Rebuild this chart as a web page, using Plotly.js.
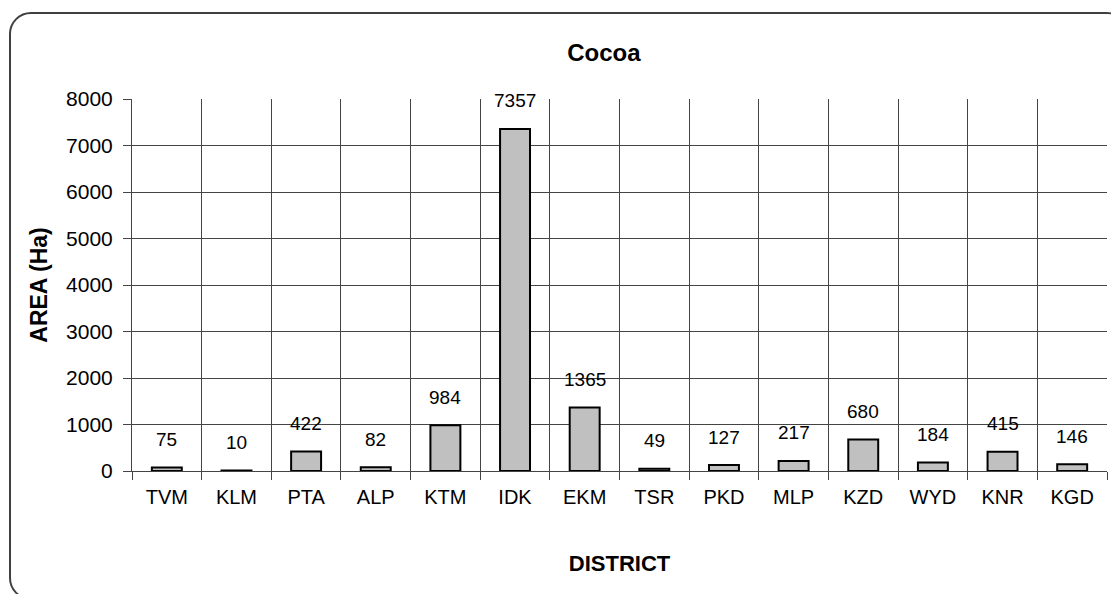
<!DOCTYPE html>
<html>
<head>
<meta charset="utf-8">
<script src="https://cdn.plot.ly/plotly-3.0.1.min.js"></script>
<style>
  html, body { margin: 0; padding: 0; background: #fff; overflow: hidden; }
  #chart { position: absolute; left: 0; top: 0; width: 1111px; height: 594px; }
  #frame { position: absolute; left: 9px; top: 12px; width: 1116px; height: 584px;
           border: 2px solid #404040; border-radius: 22px; pointer-events: none; }
</style>
</head>
<body>
<div id="chart"></div>
<div id="frame"></div>
<script>
const districts = ["TVM","KLM","PTA","ALP","KTM","IDK","EKM","TSR","PKD","MLP","KZD","WYD","KNR","KGD"];
const areaHa = [75, 10, 422, 82, 984, 7357, 1365, 49, 127, 217, 680, 184, 415, 146];
const yTicks = [0,1000,2000,3000,4000,5000,6000,7000,8000];

const font = "Liberation Sans, Arial, sans-serif";

const trace = {
  type: "bar",
  x: districts,
  y: areaHa,
  width: 0.43,
  marker: { color: "#c0c0c0", line: { color: "#000", width: 2 } },
  hoverinfo: "x+y"
};

const annotations = districts.map((d, i) => ({
  x: d, y: areaHa[i], xref: "x", yref: "y",
  text: String(areaHa[i]), showarrow: false,
  yanchor: "middle", yshift: 28,
  font: { family: font, size: 19, color: "#000" }
}));

const layout = {
  width: 1111, height: 594,
  margin: { l: 132, r: 4, t: 99, b: 123 },
  paper_bgcolor: "rgba(0,0,0,0)",
  plot_bgcolor: "#fff",
  showlegend: false,
  title: { text: "<b>Cocoa</b>", x: 0.5435, xanchor: "center", y: 0.911, yanchor: "middle",
           font: { family: font, size: 24, color: "#000" } },
  xaxis: {
    type: "category",
    tickson: "boundaries",
    showgrid: true, gridcolor: "#444", gridwidth: 1,
    ticks: "outside", ticklen: 8, tickcolor: "#444", tickwidth: 1,
    ticklabelstandoff: 8,
    showline: true, linecolor: "#444", linewidth: 1,
    tickfont: { family: font, size: 20, color: "#000" },
    title: { text: "<b>DISTRICT</b>", standoff: 48, font: { family: font, size: 22, color: "#000" } },
    fixedrange: true
  },
  yaxis: {
    range: [0, 8000],
    tickvals: yTicks,
    ticktext: yTicks.map(String),
    showgrid: true, gridcolor: "#444", gridwidth: 1,
    zeroline: false,
    ticks: "outside", ticklen: 8, tickcolor: "#444", tickwidth: 1,
    ticklabelstandoff: 6,
    showline: true, linecolor: "#444", linewidth: 1,
    tickfont: { family: font, size: 21, color: "#000" },
    title: { text: "<b>AREA (Ha)</b>", standoff: 12, font: { family: font, size: 23, color: "#000" } },
    fixedrange: true
  },
  annotations: annotations
};

Plotly.newPlot("chart", [trace], layout, { displayModeBar: false, staticPlot: true });
</script>
</body>
</html>
